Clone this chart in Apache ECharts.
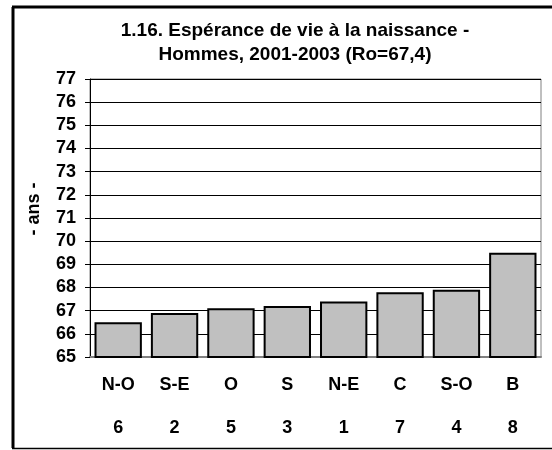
<!DOCTYPE html>
<html>
<head>
<meta charset="utf-8">
<script src="https://cdn.jsdelivr.net/npm/echarts@6/dist/echarts.min.js"></script>
<style>
  html, body { margin: 0; padding: 0; background: #fff; }
  #chart { width: 552px; height: 450px; }
</style>
</head>
<body>
<div id="chart"></div>
<script>
// regions and their codes, sorted by value
var regions = ["N-O", "S-E", "O", "S", "N-E", "C", "S-O", "B"];
var codes = ["6", "2", "5", "3", "1", "7", "4", "8"];
// life expectancy at birth, men (years)
var lifeExp = [66.5, 66.9, 67.1, 67.2, 67.4, 67.8, 67.9, 69.5];

var font = "Arial, 'Liberation Sans', sans-serif";

var myChart = echarts.init(document.getElementById("chart"));
var option = {
  backgroundColor: "#fff",
  animation: false,
  title: {
    text: "1.16. Espérance de vie à la naissance -\nHommes, 2001-2003 (Ro=67,4)",
    left: 290,
    top: 14,
    textAlign: "center",
    textStyle: {
      fontFamily: font,
      fontSize: 19,
      fontWeight: "bold",
      color: "#000",
      lineHeight: 24
    }
  },
  // outer frame, only left / top / bottom are inside the picture
  graphic: [
    { type: "line", shape: { x1: 13, y1: 7, x2: 13, y2: 448 }, style: { stroke: "#000", lineWidth: 3 } },
    { type: "line", shape: { x1: 12, y1: 7, x2: 560, y2: 7 }, style: { stroke: "#000", lineWidth: 3 } },
    { type: "line", shape: { x1: 12, y1: 448.5, x2: 560, y2: 448.5 }, style: { stroke: "#000", lineWidth: 1.5 } }
  ],
  grid: {
    left: 90,
    right: 11,
    top: 79,
    bottom: 91,
    show: true,
    borderColor: "#808080",
    borderWidth: 1
  },
  xAxis: {
    type: "category",
    data: regions.map(function (r, i) { return r + "\n" + codes[i]; }),
    axisLine: { lineStyle: { color: "#808080", width: 2 } },
    axisTick: { show: false },
    axisLabel: {
      margin: 7,
      color: "#000",
      fontFamily: font,
      fontSize: 18,
      fontWeight: "bold",
      lineHeight: 43
    }
  },
  yAxis: {
    type: "value",
    min: 65,
    max: 77,
    interval: 1,
    name: "- ans -",
    nameLocation: "middle",
    nameGap: 47,
    nameRotate: 90,
    nameTextStyle: {
      color: "#000",
      fontFamily: font,
      fontSize: 18,
      fontWeight: "bold",
      padding: [0, 0, 0, 18]
    },
    axisLine: { show: true, lineStyle: { color: "#000", width: 1 } },
    axisTick: { show: true, length: 5, lineStyle: { color: "#000" } },
    axisLabel: {
      margin: 14,
      color: "#000",
      fontFamily: font,
      fontSize: 18,
      fontWeight: "bold"
    },
    splitLine: { lineStyle: { color: "#000", width: 1 } }
  },
  series: [
    {
      type: "bar",
      data: lifeExp,
      barCategoryGap: "16%",
      itemStyle: {
        color: "#c0c0c0",
        borderColor: "#000",
        borderWidth: 2
      }
    }
  ]
};
myChart.setOption(option);
</script>
</body>
</html>
